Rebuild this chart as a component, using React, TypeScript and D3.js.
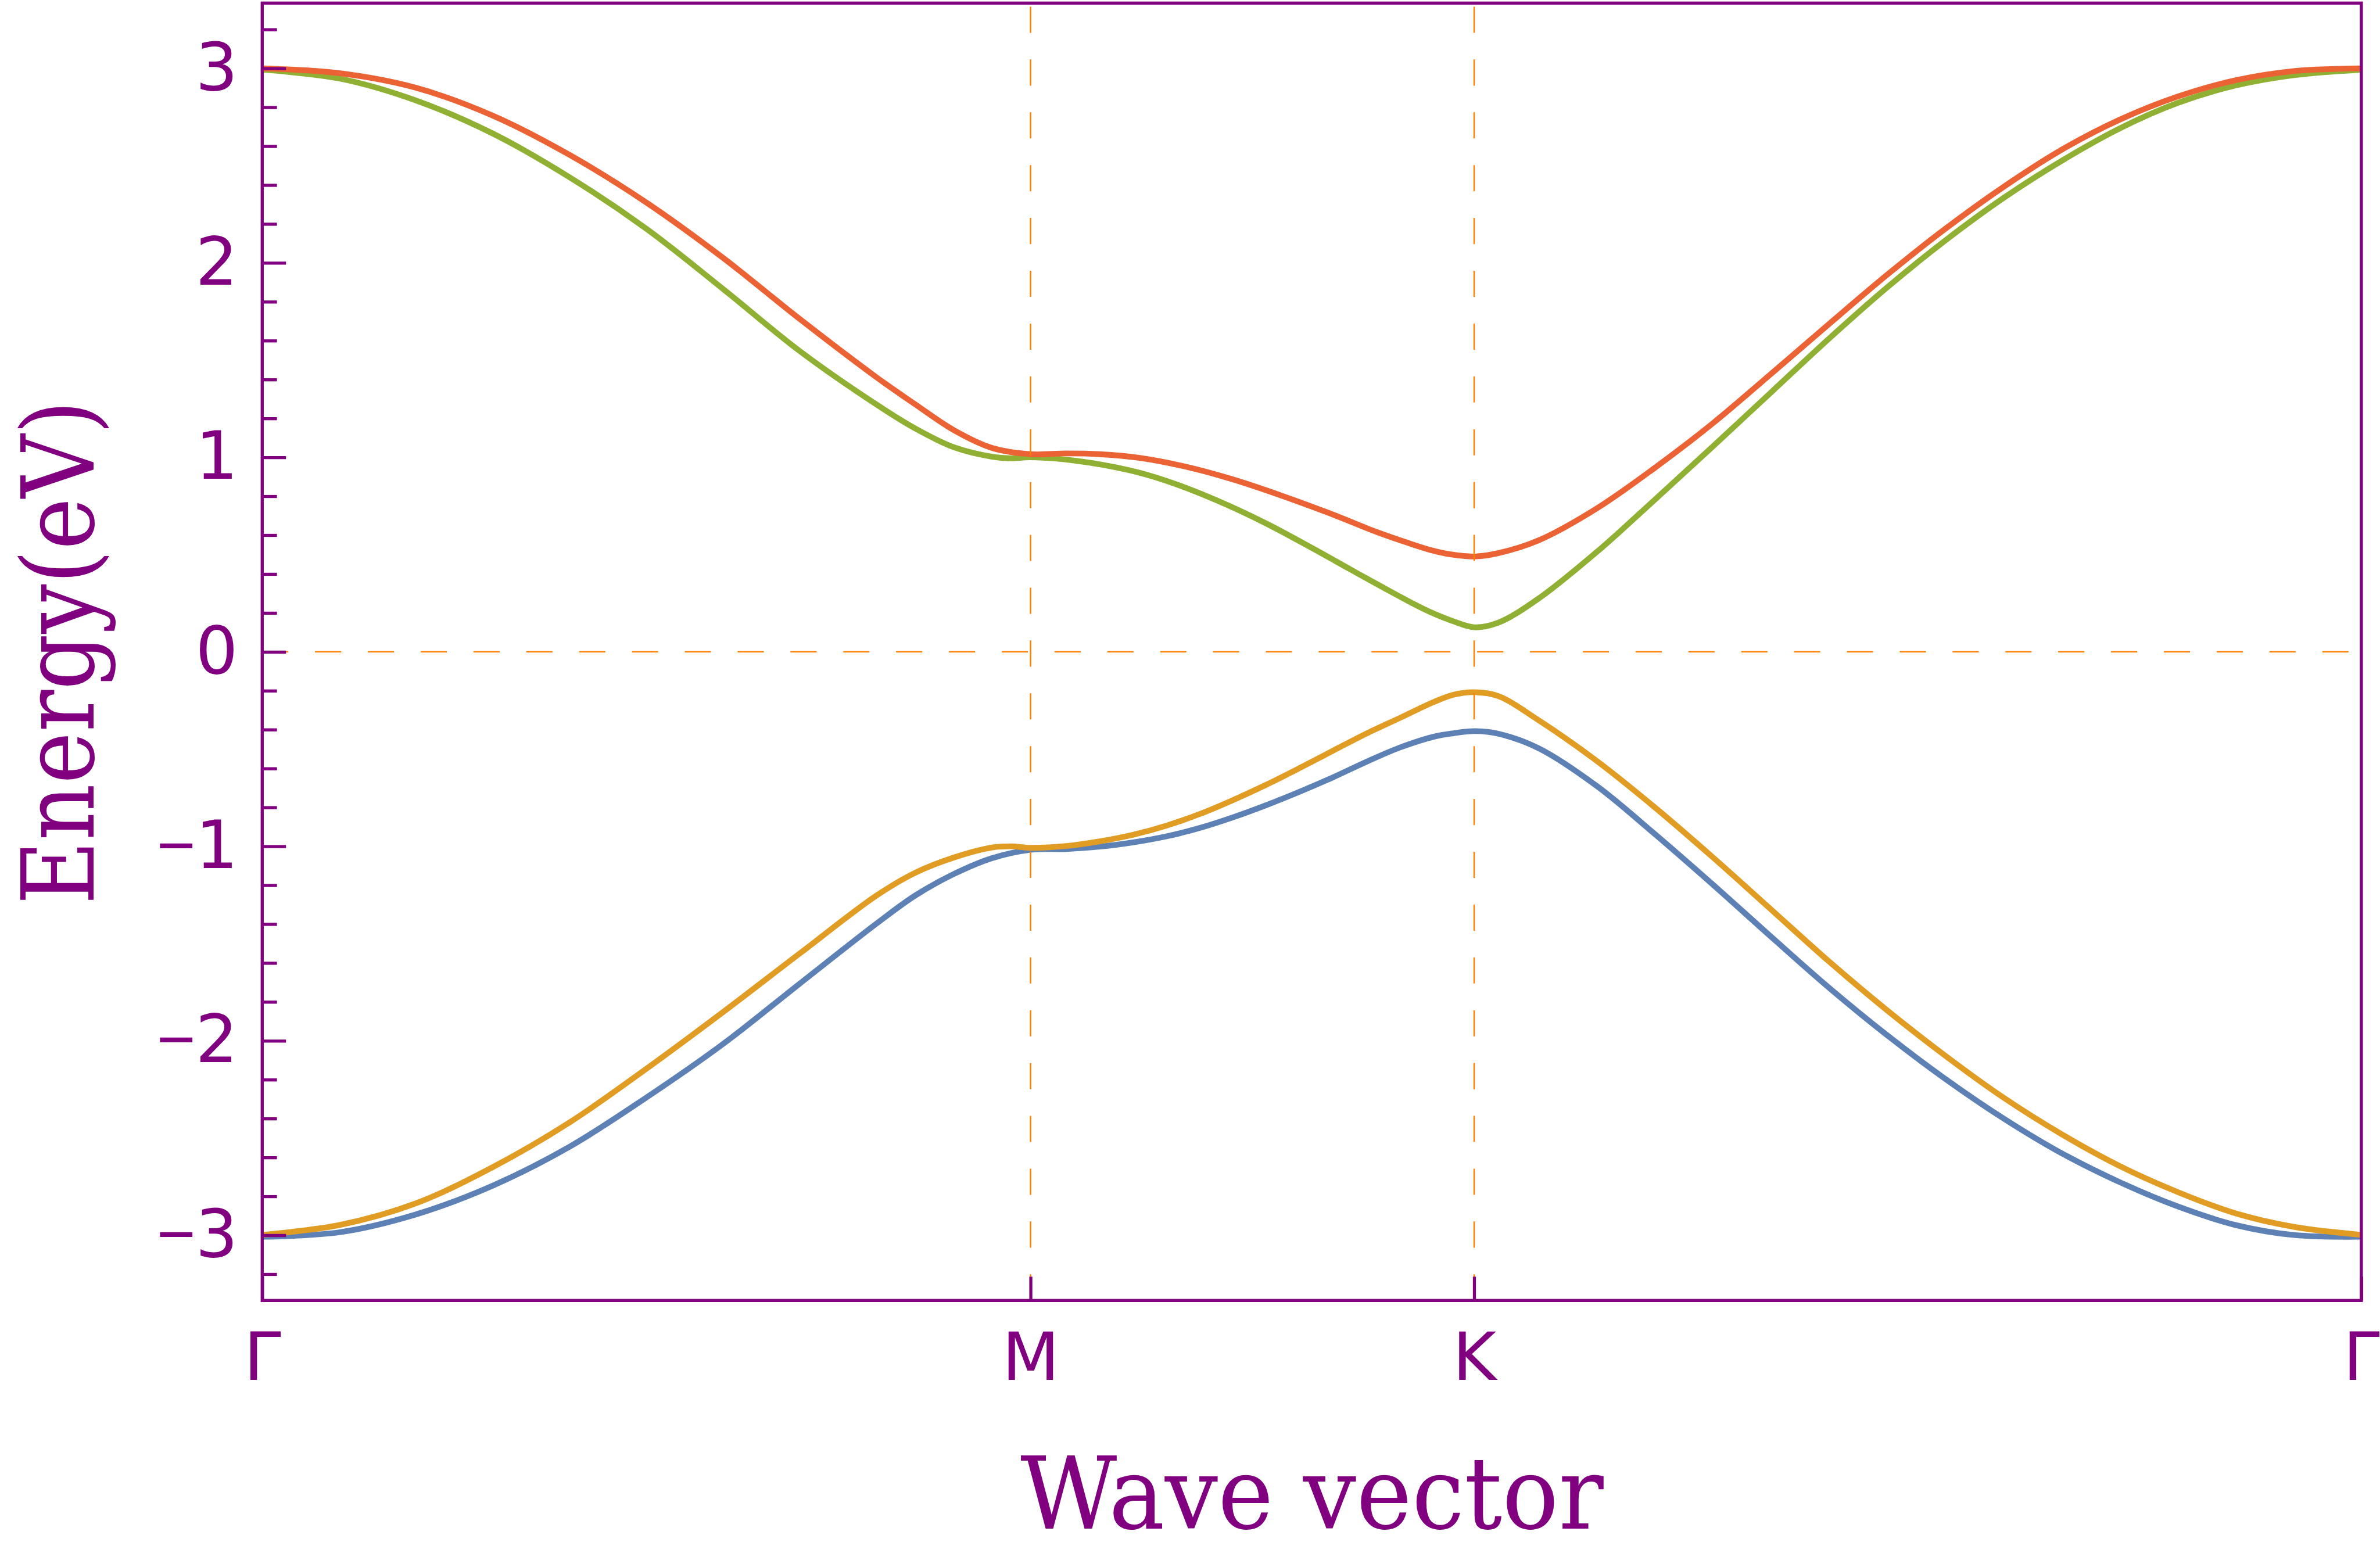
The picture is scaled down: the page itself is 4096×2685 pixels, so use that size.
import React, { useEffect, useRef } from "react";
import * as d3 from "d3";

const S = 0.819; // reference -> window scale
const W = 5000 * S;
const H = 3277 * S;

// path coordinate along Γ-M-K-Γ (ΓM = 1)
const kTicks = [0, 1, 1.57735, 2.73205];
const kLabels = ["Γ", "M", "K", "Γ"];
const eMajor = [-3, -2, -1, 0, 1, 2, 3];
const eMinor = d3
  .range(-16, 17)
  .map((i) => i * 0.2)
  .filter((v) => Math.abs(v - Math.round(v)) > 1e-6);

// bands: [k, energy]
const bandBlue: [number, number][] = [
  [0, -3.008], [0.1, -2.985], [0.2, -2.893], [0.3, -2.745], [0.4, -2.545],
  [0.5, -2.292], [0.6, -2.016], [0.7, -1.705], [0.8, -1.396], [0.85, -1.253],
  [0.9, -1.143], [0.95, -1.061], [1.0, -1.018],
  [1.0465, -1.014], [1.0899, -1.002], [1.1334, -0.98], [1.1768, -0.949], [1.2203, -0.906],
  [1.2637, -0.851], [1.3071, -0.788], [1.3506, -0.719], [1.394, -0.645], [1.4375, -0.565],
  [1.4809, -0.492], [1.5244, -0.437], [1.5504, -0.419], [1.5774, -0.408],
  [1.6084, -0.421], [1.6613, -0.496], [1.7369, -0.69], [1.8125, -0.937], [1.8881, -1.197],
  [1.9638, -1.465], [2.0394, -1.728], [2.115, -1.972], [2.1906, -2.196], [2.2662, -2.399],
  [2.3418, -2.578], [2.4175, -2.727], [2.4931, -2.852], [2.5687, -2.948], [2.6443, -2.999],
  [2.73205, -3.008],
];

const bandOrange: [number, number][] = [
  [0, -2.998], [0.1, -2.948], [0.2, -2.836], [0.3, -2.65], [0.4, -2.42],
  [0.5, -2.144], [0.6, -1.852], [0.7, -1.55], [0.8, -1.252], [0.85, -1.136],
  [0.9, -1.058], [0.95, -1.006], [0.975, -1.0], [1.0, -1.008],
  [1.0465, -0.999], [1.0899, -0.975], [1.1334, -0.941], [1.1768, -0.894], [1.2203, -0.834],
  [1.2637, -0.762], [1.3071, -0.683], [1.3506, -0.597], [1.394, -0.508], [1.4375, -0.42],
  [1.4809, -0.34], [1.5244, -0.259], [1.5504, -0.221], [1.5774, -0.208],
  [1.6084, -0.227], [1.6613, -0.352], [1.7369, -0.561], [1.8125, -0.8], [1.8881, -1.057],
  [1.9638, -1.325], [2.0394, -1.593], [2.115, -1.844], [2.1906, -2.077], [2.2662, -2.292],
  [2.3418, -2.48], [2.4175, -2.644], [2.4931, -2.778], [2.5687, -2.888], [2.6443, -2.957],
  [2.73205, -2.998],
];

const bandGreen: [number, number][] = [
  [0, 2.993], [0.1, 2.948], [0.2, 2.835], [0.3, 2.665], [0.4, 2.44],
  [0.5, 2.175], [0.6, 1.865], [0.7, 1.545], [0.8, 1.27], [0.85, 1.148],
  [0.9, 1.052], [0.95, 1.003], [0.975, 0.995], [1.0, 1.0],
  [1.0595, 0.982], [1.129, 0.933], [1.1768, 0.879], [1.242, 0.779], [1.3071, 0.659],
  [1.368, 0.53], [1.4157, 0.425], [1.4592, 0.33], [1.4896, 0.265], [1.52, 0.205],
  [1.5482, 0.16], [1.5774, 0.126],
  [1.6084, 0.149], [1.6613, 0.274], [1.7369, 0.513], [1.8125, 0.782], [1.8881, 1.056],
  [1.9638, 1.334], [2.0394, 1.611], [2.115, 1.874], [2.1906, 2.115], [2.2662, 2.333],
  [2.3418, 2.524], [2.4175, 2.691], [2.4931, 2.822], [2.5687, 2.912], [2.6443, 2.965],
  [2.73205, 2.993],
];

const bandRed: [number, number][] = [
  [0, 3.0], [0.1, 2.975], [0.2, 2.9], [0.3, 2.757], [0.4, 2.555],
  [0.5, 2.31], [0.6, 2.025], [0.7, 1.71], [0.8, 1.41], [0.85, 1.272],
  [0.9, 1.14], [0.95, 1.048], [1.0, 1.016],
  [1.0465, 1.02], [1.0899, 1.016], [1.1421, 0.997], [1.2029, 0.951], [1.2637, 0.886],
  [1.3289, 0.8], [1.394, 0.705], [1.4505, 0.616], [1.4896, 0.562], [1.52, 0.524],
  [1.5482, 0.5], [1.5774, 0.49],
  [1.6084, 0.507], [1.6613, 0.573], [1.7369, 0.737], [1.8125, 0.946], [1.8881, 1.175],
  [1.9638, 1.429], [2.0394, 1.686], [2.115, 1.939], [2.1906, 2.175], [2.2662, 2.39],
  [2.3418, 2.581], [2.4175, 2.736], [2.4931, 2.855], [2.5687, 2.939], [2.6443, 2.986],
  [2.73205, 3.0],
];

const bands = [
  { data: bandBlue, color: "#5E81B5" },
  { data: bandOrange, color: "#E19C24" },
  { data: bandGreen, color: "#8FB032" },
  { data: bandRed, color: "#EB6235" },
];

const App = () => {
  const svgRef = useRef<SVGSVGElement>(null);

  useEffect(() => {
    const svg = d3.select(svgRef.current);
    svg.selectAll("*").remove();

    const purple = "#800080";
    const frame = { left: 551 * S, right: 4962 * S, top: 6.5 * S, bottom: 2733 * S };

    const x = d3
      .scaleLinear()
      .domain([0, kTicks[kTicks.length - 1]])
      .range([frame.left, frame.right]);
    const y = d3.scaleLinear().domain([-3.3355, 3.3355]).range([frame.bottom, frame.top]);

    // bands
    const line = d3
      .line<[number, number]>()
      .x((d) => x(d[0]))
      .y((d) => y(d[1]))
      .curve(d3.curveCatmullRom.alpha(0.5));

    svg
      .append("g")
      .selectAll("path")
      .data(bands)
      .join("path")
      .attr("d", (d) => line(d.data))
      .attr("fill", "none")
      .attr("stroke", (d) => d.color)
      .attr("stroke-width", 12 * S)
      .attr("stroke-linejoin", "round");

    // dashed guide lines (on top of the bands)
    const guides = svg
      .append("g")
      .attr("stroke", "#FF8000")
      .attr("stroke-width", 3 * S)
      .attr("stroke-dasharray", `${55 * S} ${56 * S}`);
    guides
      .append("line")
      .attr("x1", frame.left)
      .attr("x2", frame.right)
      .attr("y1", y(0))
      .attr("y2", y(0));
    guides
      .selectAll("line.v")
      .data(kTicks.slice(1, -1))
      .join("line")
      .attr("class", "v")
      .attr("x1", (d) => x(d))
      .attr("x2", (d) => x(d))
      .attr("y1", frame.bottom)
      .attr("y2", frame.top);

    // frame
    svg
      .append("rect")
      .attr("x", frame.left)
      .attr("y", frame.top)
      .attr("width", frame.right - frame.left)
      .attr("height", frame.bottom - frame.top)
      .attr("fill", "none")
      .attr("stroke", purple)
      .attr("stroke-width", 6.5 * S);

    const styleAxis = (g) => {
      g.select(".domain").remove();
      g.selectAll(".tick line").attr("stroke", purple).attr("stroke-width", 6.5 * S);
      g.attr("font-family", "'DejaVu Sans', sans-serif").attr("font-size", 140 * S);
      g.selectAll(".tick text")
        .attr("fill", purple)
        .each(function () {
          // narrower minus sign, as in the original
          const t = d3.select(this);
          const s = t.text();
          if (s.startsWith("−")) {
            t.text(null);
            t.append("tspan").attr("font-family", "'Liberation Sans', sans-serif").text("−");
            t.append("tspan").text(s.slice(1));
          }
        });
    };

    // left axis: minor then major ticks
    svg
      .append("g")
      .attr("transform", `translate(${frame.left},0)`)
      .call(d3.axisLeft(y).tickValues(eMinor).tickSize(-31 * S).tickFormat(() => ""))
      .call(styleAxis);
    svg
      .append("g")
      .attr("transform", `translate(${frame.left},0)`)
      .call(
        d3
          .axisLeft(y)
          .tickValues(eMajor)
          .tickSize(-50 * S)
          .tickPadding(51 * S)
          .tickFormat(d3.format("d"))
      )
      .call(styleAxis);

    // bottom axis: high-symmetry points
    svg
      .append("g")
      .attr("transform", `translate(0,${frame.bottom})`)
      .call(
        d3
          .axisBottom(x)
          .tickValues(kTicks)
          .tickSize(-50 * S)
          .tickPadding(167 * S - 0.71 * 140 * S)
          .tickFormat((d, i) => kLabels[i])
      )
      .call(styleAxis);

    // axis titles
    svg
      .append("text")
      .attr("x", 2757 * S)
      .attr("y", 3213 * S)
      .attr("text-anchor", "middle")
      .attr("font-family", "'DejaVu Serif', serif")
      .attr("font-size", 210 * S)
      .attr("fill", purple)
      .attr("textLength", 1225 * S)
      .attr("lengthAdjust", "spacingAndGlyphs")
      .text("Wave vector");

    svg
      .append("text")
      .attr("transform", `translate(${197 * S},${1371 * S}) rotate(-90)`)
      .attr("text-anchor", "middle")
      .attr("font-family", "'DejaVu Serif', serif")
      .attr("font-size", 210 * S)
      .attr("fill", purple)
      .attr("textLength", 1060 * S)
      .attr("lengthAdjust", "spacingAndGlyphs")
      .text("Energy(eV)");
  }, []);

  return (
    <div style={{ position: "absolute", left: 0, top: 0 }}>
      <svg ref={svgRef} width={W} height={H} style={{ display: "block" }}></svg>
    </div>
  );
};

export default App;
